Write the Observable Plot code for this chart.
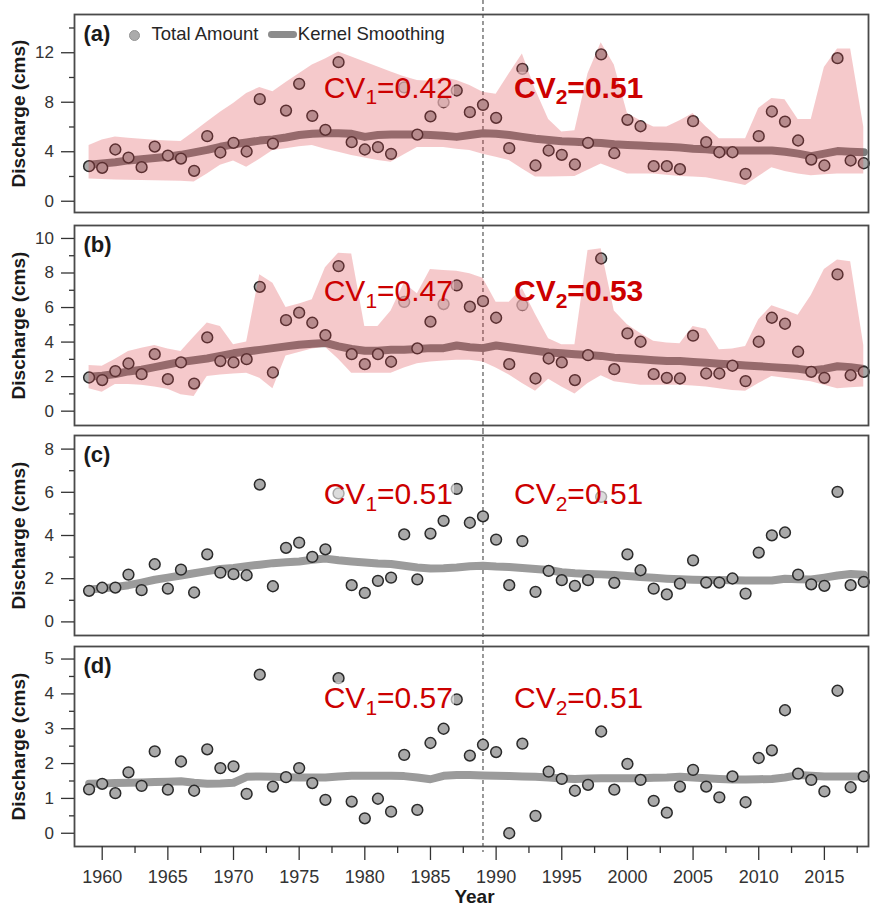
<!DOCTYPE html>
<html>
<head>
<meta charset="utf-8">
<script src="https://cdn.jsdelivr.net/npm/d3@7"></script>
<script src="https://cdn.jsdelivr.net/npm/@observablehq/plot@0.6"></script>
<style>
  body { margin: 0; background: #fff; }
  #chart { position: relative; width: 870px; height: 906px; font-family: "Liberation Sans", Arial, sans-serif; }
  #chart svg { display: block; }
  .lg { position: absolute; box-sizing: border-box; }
  .lgt { position: absolute; font-size: 18.5px; line-height: 18.5px; color: #262626; white-space: nowrap; }
</style>
</head>
<body>
<div id="chart"></div>
<script>
// ---------- data ----------
const years = d3.range(1959, 2019);
const splitYear = 1989;

const totalA = [2.83,2.70,4.18,3.53,2.75,4.42,3.69,3.45,2.46,5.26,
  3.94,4.72,4.02,8.25,4.66,7.33,9.49,6.90,5.77,11.24,
  4.77,4.18,4.37,3.83,9.20,5.39,6.85,8.00,8.95,7.20,
  7.79,6.74,4.29,10.70,2.89,4.10,3.75,2.97,4.72,11.86,
  3.88,6.58,6.06,2.83,2.83,2.59,6.47,4.77,3.96,3.96,
  2.21,5.26,7.25,6.44,4.91,3.37,2.89,11.56,3.29,3.07];
const smoothA = [2.95,3.05,3.15,3.30,3.40,3.50,3.60,3.75,3.95,4.15,
  4.40,4.60,4.75,4.90,5.00,5.15,5.35,5.45,5.50,5.50,
  5.45,5.20,5.35,5.40,5.40,5.40,5.35,5.30,5.20,5.35,
  5.50,5.45,5.35,5.20,5.05,4.95,4.85,4.80,4.75,4.70,
  4.60,4.55,4.50,4.45,4.40,4.35,4.25,4.20,4.10,4.10,
  4.10,4.10,4.10,4.00,3.85,3.65,3.85,4.05,4.00,3.95];
const upperA = [4.5,4.95,5.2,5.1,5.0,4.92,4.87,4.83,5.6,6.4,
  7.2,7.9,8.7,9.2,8.85,9.6,10.3,11.0,11.5,12.05,
  11.65,11.25,10.85,10.45,10.05,9.75,9.7,10.0,9.75,9.35,
  8.8,8.65,10.3,11.9,9.0,6.6,5.6,5.7,10.3,12.8,
  11.0,7.1,6.5,6.0,6.0,6.5,7.1,6.0,5.05,5.05,
  5.05,7.5,8.3,8.2,6.6,6.6,10.8,12.3,12.3,6.0];
const lowerA = [1.8,1.75,1.72,1.7,1.68,1.66,1.64,1.62,1.55,2.2,
  2.9,3.25,2.75,3.4,4.1,4.25,4.4,4.5,4.2,3.95,
  3.7,3.5,3.3,3.15,3.75,4.35,4.35,4.35,4.2,4.1,
  3.8,3.55,3.3,2.6,1.95,1.95,1.97,2.0,2.5,3.0,
  2.6,2.2,2.2,2.2,2.1,2.0,1.95,1.9,1.7,1.5,
  1.27,2.0,2.7,2.4,2.2,2.05,2.15,2.2,2.2,2.2];

const totalB = [1.95,1.80,2.32,2.76,2.14,3.30,1.85,2.82,1.60,4.27,
  2.90,2.82,3.01,7.20,2.24,5.27,5.70,5.12,4.40,8.40,
  3.30,2.72,3.30,2.86,6.33,3.63,5.18,6.20,7.28,6.05,
  6.37,5.41,2.72,6.14,1.89,3.05,2.82,1.80,3.24,8.84,
  2.43,4.50,4.02,2.14,1.93,1.89,4.37,2.18,2.18,2.63,
  1.74,4.02,5.41,5.06,3.44,2.28,1.93,7.92,2.08,2.28];
const smoothB = [2.00,2.05,2.15,2.30,2.40,2.55,2.70,2.85,2.95,3.05,
  3.20,3.35,3.45,3.55,3.65,3.75,3.85,3.90,3.95,3.75,
  3.60,3.50,3.50,3.55,3.55,3.60,3.65,3.65,3.80,3.70,
  3.65,3.80,3.70,3.60,3.50,3.40,3.35,3.30,3.25,3.20,
  3.10,3.05,3.00,2.95,2.90,2.90,2.85,2.80,2.75,2.70,
  2.65,2.60,2.55,2.50,2.45,2.35,2.45,2.60,2.55,2.45];
const upperB = [2.65,2.6,3.0,3.45,3.65,3.8,3.6,3.45,4.3,5.1,
  4.9,3.85,4.0,7.9,7.4,6.0,6.2,6.45,8.3,9.15,
  9.1,4.9,4.9,5.8,7.4,6.8,8.2,8.15,8.1,7.95,
  7.7,6.3,6.3,7.1,5.6,4.2,3.85,3.85,9.3,9.4,
  5.8,5.0,4.5,4.05,3.95,3.9,4.9,4.75,3.55,3.6,
  3.75,5.3,6.1,5.85,5.55,6.7,8.2,8.75,8.65,3.8];
const lowerB = [1.3,1.1,1.55,1.55,1.5,1.4,1.27,0.95,0.85,2.0,
  2.1,2.15,2.2,1.9,1.3,3.2,3.4,3.6,3.7,3.0,
  2.2,2.2,2.2,2.2,2.5,2.75,2.85,2.9,2.95,2.95,
  2.85,2.5,2.1,1.6,1.15,1.85,1.4,1.0,1.6,2.05,
  1.7,1.6,1.5,1.5,1.5,1.5,1.45,1.4,1.3,1.2,
  1.15,1.6,2.0,1.9,1.8,1.7,1.5,1.3,1.35,1.4];

const totalC = [1.44,1.58,1.59,2.19,1.47,2.67,1.54,2.42,1.36,3.13,
  2.28,2.21,2.16,6.36,1.65,3.43,3.67,3.01,3.36,5.95,
  1.70,1.34,1.90,2.05,4.05,1.97,4.09,4.68,6.16,4.59,
  4.89,3.81,1.70,3.74,1.39,2.36,1.93,1.67,1.93,5.79,
  1.81,3.13,2.39,1.54,1.27,1.77,2.85,1.82,1.82,2.01,
  1.31,3.21,4.01,4.14,2.19,1.74,1.67,6.02,1.70,1.85];
const smoothC = [1.50,1.55,1.62,1.70,1.82,1.95,2.05,2.15,2.25,2.35,
  2.45,2.50,2.58,2.65,2.72,2.76,2.80,2.88,2.93,2.85,
  2.80,2.75,2.70,2.68,2.60,2.52,2.47,2.48,2.52,2.58,
  2.60,2.56,2.54,2.50,2.45,2.40,2.30,2.25,2.22,2.20,
  2.17,2.12,2.08,2.04,2.00,1.97,1.95,1.94,1.94,1.93,
  1.92,1.92,1.92,2.00,1.98,1.96,2.05,2.15,2.22,2.18];

const totalD = [1.26,1.42,1.15,1.75,1.36,2.35,1.25,2.06,1.22,2.41,
  1.87,1.92,1.13,4.55,1.34,1.61,1.87,1.44,0.96,4.45,
  0.91,0.43,0.99,0.62,2.25,0.67,2.59,3.00,3.84,2.23,
  2.54,2.33,0.00,2.57,0.50,1.77,1.56,1.22,1.39,2.92,
  1.25,1.99,1.53,0.93,0.59,1.34,1.82,1.34,1.03,1.63,
  0.89,2.16,2.38,3.53,1.71,1.53,1.20,4.09,1.32,1.63];
const smoothD = [1.42,1.43,1.44,1.45,1.46,1.47,1.48,1.49,1.45,1.42,
  1.43,1.45,1.62,1.63,1.62,1.61,1.60,1.60,1.60,1.63,
  1.65,1.65,1.65,1.65,1.64,1.60,1.55,1.65,1.67,1.67,
  1.66,1.65,1.64,1.63,1.62,1.60,1.57,1.56,1.57,1.58,
  1.58,1.58,1.58,1.59,1.60,1.62,1.60,1.58,1.56,1.54,
  1.54,1.55,1.56,1.60,1.67,1.65,1.63,1.63,1.63,1.63];

const panelLabels = ["(a)", "(b)", "(c)", "(d)"];
const cv1Values = ["0.42", "0.47", "0.51", "0.57"];
const cv2Values = ["0.51", "0.53", "0.51", "0.51"];
const cvBaseline = [8.36, 6.37, 5.44, 3.59];   // label heights, in discharge units
const yMajorTicks = [[0,4,8,12], [0,2,4,6,8,10], [0,2,4,6,8], [0,1,2,3,4,5]];
const yMinorTicks = [[2,6,10,14], [1,3,5,7,9], [1,3,5,7], [0.5,1.5,2.5,3.5,4.5]];
const xMajorTicks = [1960,1965,1970,1975,1980,1985,1990,1995,2000,2005,2010,2015];
const xMinorTicks = [1962.5,1967.5,1972.5,1977.5,1982.5,1987.5,1992.5,1997.5,2002.5,2007.5,2012.5,2017.5];
const legendItems = ["Total Amount", "Kernel Smoothing"];

// ---------- layout (styling only) ----------
const FONT = '"Liberation Sans", Arial, sans-serif';
const xDomain = [1957.89, 2018.36];
const layout = [
  {height: 218, mt: 14, mb: 6, yDomain: [-0.91, 15.09]},
  {height: 212, mt: 7,  mb: 5, yDomain: [-0.83, 10.75]},
  {height: 210, mt: 5,  mb: 5, yDomain: [-0.63, 8.63]},
  {height: 266, mt: 6,  mb: 60, yDomain: [-0.38, 5.36]}
];
const totals = [totalA, totalB, totalC, totalD];
const smooths = [smoothA, smoothB, smoothC, smoothD];
const uppers = [upperA, upperB, null, null];
const lowers = [lowerA, lowerB, null, null];

const ns = "http://www.w3.org/2000/svg";
function subscriptify(svg) {
  svg.querySelectorAll("text").forEach(t => {
    const m = /^CV(\d)=(.*)$/.exec(t.textContent);
    if (!m) return;
    t.textContent = "";
    const a = document.createElementNS(ns, "tspan"); a.textContent = "CV";
    const b = document.createElementNS(ns, "tspan"); b.textContent = m[1];
    b.setAttribute("font-size", "21"); b.setAttribute("dy", "6.5");
    const c = document.createElementNS(ns, "tspan"); c.textContent = "=" + m[2];
    c.setAttribute("dy", "-6.5");
    t.append(a, b, c);
  });
}
// translucent white box behind each CV label, under the band (as in the original figure)
function addLabelBoxes(svg) {
  const s = svg.getBoundingClientRect();
  const texts = [...svg.querySelectorAll("text")].filter(t => /^CV\d/.test(t.textContent));
  const area = svg.querySelector('g[aria-label="area"]');
  texts.forEach(t => {
    const r = t.getBoundingClientRect();
    const rect = document.createElementNS(ns, "rect");
    rect.setAttribute("x", r.left - s.left - 1);
    rect.setAttribute("y", r.top - s.top + 1);
    rect.setAttribute("width", r.width + 2);
    rect.setAttribute("height", r.height - 2);
    rect.setAttribute("fill", "white");
    rect.setAttribute("fill-opacity", "0.6");
    const before = area || t.parentNode;
    before.parentNode.insertBefore(rect, before);
  });
}

const chart = document.getElementById("chart");

layout.forEach((L, k) => {
  const hasBand = !!uppers[k];
  const data = years.map((year, i) => ({
    year, total: totals[k][i], smooth: smooths[k][i],
    lower: hasBand ? lowers[k][i] : null, upper: hasBand ? uppers[k][i] : null
  }));
  const cvData = [{x: splitYear, y: cvBaseline[k], t1: `CV1=${cv1Values[k]}`, t2: `CV2=${cv2Values[k]}`}];
  const cv2Weight = k < 2 ? "bold" : "normal";
  const isLast = k === layout.length - 1;

  const marks = [
    Plot.ruleX([splitYear], {x: d => d, stroke: "#333", strokeWidth: 1, strokeDasharray: "4,3",
      insetTop: -L.mt, insetBottom: isLast ? -6 : -L.mb}),
    Plot.line(data, {x: "year", y: "smooth", stroke: hasBand ? "#7c7c7c" : "#9b9b9b",
      strokeWidth: 8, strokeLinejoin: "round"}),
    Plot.dot(data, {x: "year", y: "total", r: 5.4, fill: "#a9a9a9", stroke: "#2a2a2a", strokeWidth: 1.5})
  ];
  if (hasBand) {
    marks.push(Plot.areaY(data, {x: "year", y1: "lower", y2: "upper", fill: "#dc3c46", fillOpacity: 0.28}));
  }
  marks.push(
    Plot.text(cvData, {x: "x", y: "y", text: "t1", textAnchor: "end", lineAnchor: "bottom", dx: -30,
      fontSize: 30, fill: "#cc0000"}),
    Plot.text(cvData, {x: "x", y: "y", text: "t2", textAnchor: "start", lineAnchor: "bottom", dx: 31,
      fontSize: 30, fontWeight: cv2Weight, fill: "#cc0000"})
  );
  marks.push(
    Plot.frame({stroke: "#4a4a4a", strokeWidth: 1.8}),
    Plot.axisY(yMajorTicks[k], {tickSize: 13, tickPadding: 7.5, fontSize: 17, color: "#333", strokeWidth: 1.3, label: null}),
    Plot.axisY(yMinorTicks[k], {tickSize: 5, tickFormat: () => "", color: "#333", strokeWidth: 1.3, label: null}),
    Plot.text([panelLabels[k]], {text: d => d, frameAnchor: "top-left", dx: 9, dy: 26.5, lineAnchor: "bottom",
      textAnchor: "start", fontSize: 22, fontWeight: "bold", fill: "#1a1a1a"}),
    Plot.text(["Discharge (cms)"], {text: d => d, frameAnchor: "left", dx: -56, rotate: -90,
      textAnchor: "middle", lineAnchor: "middle", fontSize: 19, fontWeight: "bold", fill: "#1a1a1a"})
  );
  if (isLast) {
    marks.push(
      Plot.axisX(xMajorTicks, {tickSize: 14, tickPadding: 10, fontSize: 18, color: "#333", strokeWidth: 1.3,
        tickFormat: d => String(d), label: null}),
      Plot.axisX(xMinorTicks, {tickSize: 7, tickFormat: () => "", color: "#333", strokeWidth: 1.3, label: null}),
      Plot.text(["Year"], {text: d => d, frameAnchor: "bottom", dx: 3, dy: 56, lineAnchor: "bottom",
        textAnchor: "middle", fontSize: 19, fontWeight: "bold", fill: "#1a1a1a"})
    );
  }

  const svg = Plot.plot({
    width: 870, height: L.height,
    marginLeft: 74, marginRight: 2, marginTop: L.mt, marginBottom: L.mb,
    style: {fontFamily: FONT, background: "white", overflow: "visible"},
    x: {domain: xDomain, label: null, ...(isLast ? {} : {axis: null})},
    y: {domain: L.yDomain, label: null},
    marks
  });
  subscriptify(svg);
  chart.appendChild(svg);
  addLabelBoxes(svg);
});

// legend in panel (a)
const lg = [
  {cls: "lg", style: "left:128.9px;top:29.9px;width:11.6px;height:11.6px;border-radius:50%;background:#ababab;border:1px solid #939393"},
  {cls: "lgt", style: "left:151.5px;top:25px", text: legendItems[0]},
  {cls: "lg", style: "left:268.3px;top:31.4px;width:28.4px;height:6.8px;border-radius:3.4px;background:#8c8c8c"},
  {cls: "lgt", style: "left:297.8px;top:25px", text: legendItems[1]}
];
lg.forEach(o => {
  const el = document.createElement("div");
  el.className = o.cls;
  el.setAttribute("style", o.style);
  if (o.text) el.textContent = o.text;
  chart.appendChild(el);
});
</script>
</body>
</html>
